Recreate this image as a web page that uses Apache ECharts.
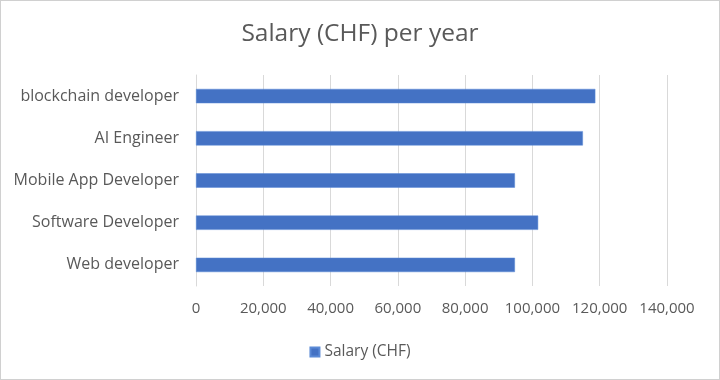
<!DOCTYPE html>
<html><head><meta charset="utf-8">
<script src="https://cdn.jsdelivr.net/npm/echarts@6/dist/echarts.min.js"></script>
<style>html,body{margin:0;padding:0;background:#fff}#c{width:718px;height:378px;border:1px solid #d0d0d0}</style>
</head><body><div id="c"></div>
<script>
const categories = ["Web developer", "Software Developer", "Mobile App Developer", "AI Engineer", "blockchain developer"];
const salaries = [94800, 101700, 94800, 115000, 118700];
const seriesName = "Salary (CHF)";
const titleText = "Salary (CHF) per year";

const chart = echarts.init(document.getElementById('c'));
const font = "'Open Sans', Arial, sans-serif";
chart.setOption({
  animation: false,
  title: { text: titleText, left: 'center', top: 16, textStyle: { fontFamily: font, fontSize: 24.5, fontWeight: 'normal', color: '#595959' } },
  grid: { left: 195, right: 52, top: 74, bottom: 93 },
  legend: { bottom: 14, left: 'center', itemWidth: 9, itemHeight: 9, itemGap: 6, icon: 'rect', textStyle: { fontFamily: font, fontSize: 15.5, color: '#595959' }, data: [seriesName] },
  xAxis: { type: 'value', min: 0, max: 140000, interval: 20000,
    axisLine: { show: false }, axisTick: { show: false },
    splitLine: { lineStyle: { color: '#d9d9d9', width: 1 } },
    axisLabel: { fontFamily: font, fontSize: 15, color: '#595959', margin: 15,
      formatter: v => v.toLocaleString('en-US') } },
  yAxis: { type: 'category', data: categories,
    axisLine: { show: true, lineStyle: { color: '#d9d9d9' } }, axisTick: { show: false },
    axisLabel: { fontFamily: font, fontSize: 16, color: '#595959', margin: 17 } },
  series: [{ name: seriesName, type: 'bar', data: salaries, barWidth: '34%',
    itemStyle: { color: '#4472c4', borderColor: '#5b8ad6', borderWidth: 0.5 } }]
});
</script></body></html>
